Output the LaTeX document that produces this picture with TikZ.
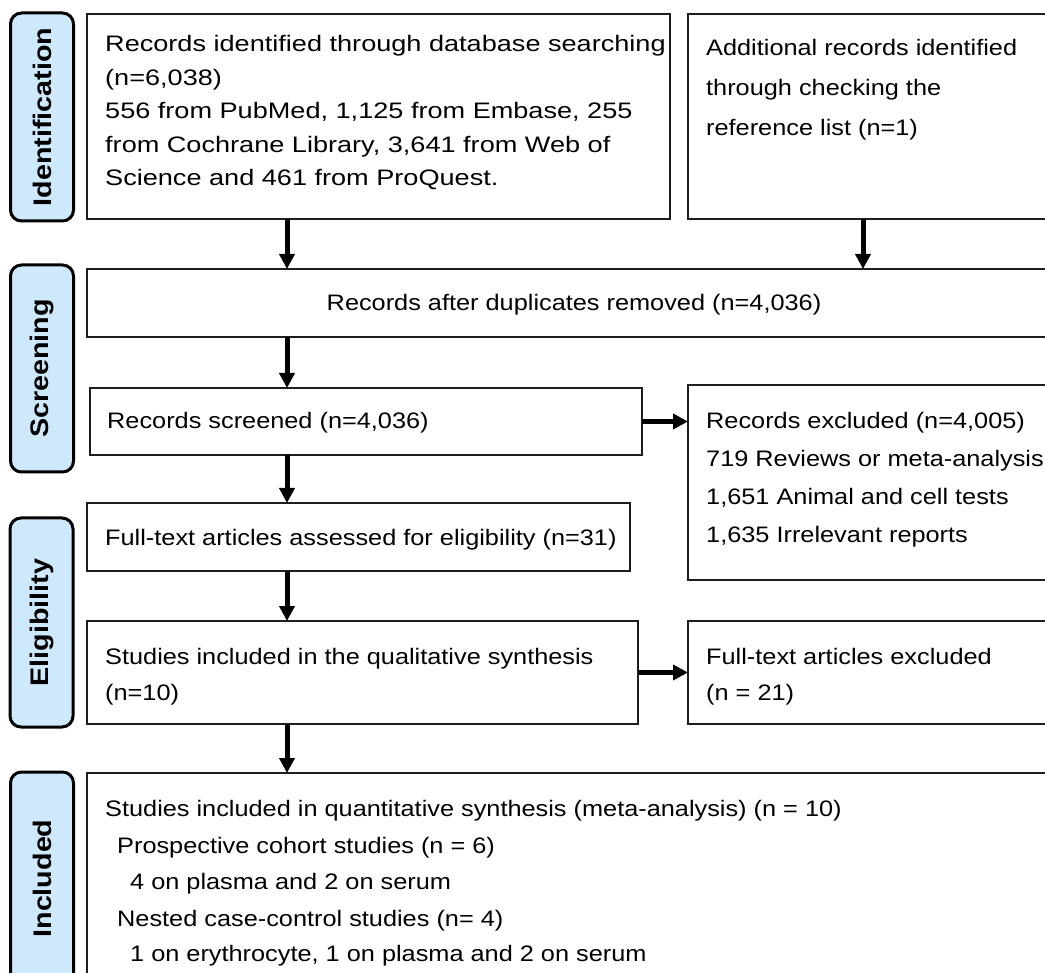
\documentclass[tikz,border=0pt]{standalone}
\usepackage{fontspec}
\setmainfont[FakeStretch=1.13]{Liberation Sans}
\newfontfamily\widefont[FakeStretch=1.21]{Liberation Sans}
\usetikzlibrary{arrows.meta}
\definecolor{labfill}{RGB}{205,233,251}
\definecolor{boxline}{RGB}{30,30,30}
\tikzset{
  box/.style={draw=boxline, line width=2pt, fill=white, inner sep=0pt, outer sep=0pt, anchor=north west},
  lab/.style={draw=black, line width=3pt, fill=labfill, rounded corners=11pt, rotate=90, inner sep=0pt, outer sep=0pt, minimum height=63pt, font=\bfseries\fontsize{25.4}{30}\selectfont},
  txt/.style={anchor=base west, inner sep=0pt, font=\fontsize{22.4}{27}\selectfont},
  ctxt/.style={anchor=base, inner sep=0pt, font=\fontsize{22.4}{27}\selectfont},
  wtxt/.style={anchor=base west, inner sep=0pt, font=\widefont\fontsize{22.4}{27}\selectfont},
  arr/.style={line width=5pt, draw=black, -{Triangle[length=15pt,width=15pt]}},
}
\begin{document}
\begin{tikzpicture}[x=1pt,y=-1pt]
\useasboundingbox (0,0) rectangle (1045,973);
\clip (0,0) rectangle (1045,973);
\fill[white] (0,0) rectangle (1045,973);

% stage labels
\node[lab, minimum width=208pt] (lid) at (42,117) {Identification};
\node[lab, minimum width=207pt] (lsc) at (42,368.5) {Screening};
\node[lab, minimum width=209pt] (lel) at (41.5,622.5) {Eligibility};
\node[lab, minimum width=213pt] (lin) at (42,878.5) {Included};

% boxes
\node[box, minimum width=583pt, minimum height=205pt] (b1) at (87,14) {};
\node[box, minimum width=374pt, minimum height=205pt] (b2) at (688,14) {};
\node[box, minimum width=975pt, minimum height=68pt] (b3) at (87,269) {};
\node[box, minimum width=552pt, minimum height=67pt] (b4) at (90,388) {};
\node[box, minimum width=374pt, minimum height=195pt] (b5) at (688,385) {};
\node[box, minimum width=543pt, minimum height=68pt] (b6) at (87,503) {};
\node[box, minimum width=551pt, minimum height=103pt] (b7) at (87,621) {};
\node[box, minimum width=374pt, minimum height=103pt] (b8) at (688,621) {};
\node[box, minimum width=975pt, minimum height=220pt] (b9) at (87,773) {};

% texts
\node[wtxt] (t1a) at (105,52) {Records identified through database searching};
\node[wtxt] (t1b) at (105,86) {(n=6,038)};
\node[wtxt] (t1c) at (105,119) {556 from PubMed, 1,125 from Embase, 255};
\node[wtxt] (t1d) at (105,153) {from Cochrane Library, 3,641 from Web of};
\node[wtxt] (t1e) at (105,186) {Science and 461 from ProQuest.};

\node[txt] (t2a) at (706,56) {Additional records identified};
\node[txt] (t2b) at (706,96) {through checking the};
\node[txt] (t2c) at (706,136) {reference list (n=1)};

\node[ctxt] (t3) at (574,311) {Records after duplicates removed (n=4,036)};

\node[txt] (t4) at (107,429) {Records screened (n=4,036)};

\node[txt] (t5a) at (706,429) {Records excluded (n=4,005)};
\node[txt] (t5b) at (706,467) {719 Reviews or meta-analysis};
\node[txt] (t5c) at (706,505) {1,651 Animal and cell tests};
\node[txt] (t5d) at (706,543) {1,635 Irrelevant reports};

\node[txt] (t6) at (105,546) {Full-text articles assessed for eligibility (n=31)};

\node[txt] (t7a) at (105,664) {Studies included in the qualitative synthesis};
\node[txt] (t7b) at (105,700) {(n=10)};

\node[txt] (t8a) at (706,664) {Full-text articles excluded};
\node[txt] (t8b) at (706,700) {(n = 21)};

\node[txt] (t9a) at (105,816) {Studies included in quantitative synthesis (meta-analysis) (n = 10)};
\node[txt] (t9b) at (117,853) {Prospective cohort studies (n = 6)};
\node[txt] (t9c) at (130,889) {4 on plasma and 2 on serum};
\node[txt] (t9d) at (117,926) {Nested case-control studies (n= 4)};
\node[txt] (t9e) at (130,961) {1 on erythrocyte, 1 on plasma and 2 on serum};

% connectors
\coordinate (c1) at (287,0);
\coordinate (c2) at (863,0);
\draw[arr] (b1.south -| c1) -- (b3.north -| c1);
\draw[arr] (b2.south -| c2) -- (b3.north -| c2);
\draw[arr] (b3.south -| c1) -- (b4.north -| c1);
\draw[arr] (b4.south -| c1) -- (b6.north -| c1);
\draw[arr] (b4.east) -- (b5.west |- b4.east);
\draw[arr] (b6.south -| c1) -- (b7.north -| c1);
\draw[arr] (b7.east) -- (b8.west |- b7.east);
\draw[arr] (b7.south -| c1) -- (b9.north -| c1);
\end{tikzpicture}
\end{document}
